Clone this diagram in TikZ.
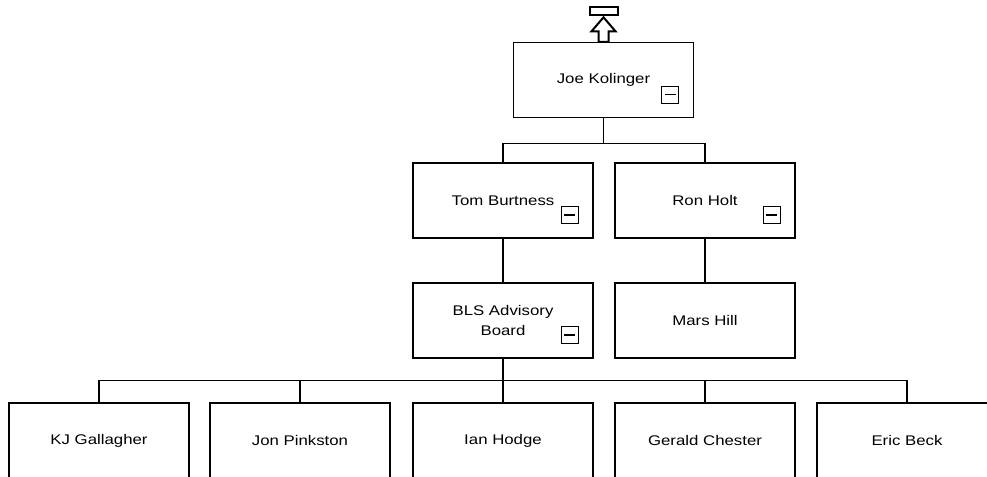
\documentclass[tikz,border=0pt]{standalone}
\usepackage{fontspec}
\newfontfamily\boxfont[FakeStretch=1.2]{Liberation Sans}
\usetikzlibrary{calc}

\tikzset{
  person/.style={draw, line width=1pt, fill=white, minimum width=135pt, minimum height=56.25pt,
                 inner sep=0pt, align=center, font=\boxfont\fontsize{10.5}{15}\selectfont},
  minusbox/.style={draw, line width=1pt, minimum size=12.75pt, inner sep=0pt},
  minusbar/.style={line width=1.1pt},
  link/.style={line width=0.85pt},
  upicon/.style={line width=1.5pt, line join=miter}
}

\begin{document}
\begin{tikzpicture}[x=0.75pt, y=-0.75pt]
\useasboundingbox (0,0) rectangle (987,476);
\clip (0,0) rectangle (987,476);

% people
\node[person] (joe)    at (603.5, 80)  {Joe Kolinger};
\node[person] (tom)    at (503, 200.5) {Tom Burtness};
\node[person] (ron)    at (705, 200.5) {Ron Holt};
\node[person] (bls)    at (503, 320.5) {BLS Advisory\\Board};
\node[person] (mars)   at (705, 320.5) {Mars Hill};
\node[person] (kj)     at (99, 440.5)  {KJ Gallagher};
\node[person] (jon)    at (300, 440.5) {Jon Pinkston};
\node[person] (ian)    at (503, 440.5) {Ian Hodge};
\node[person] (gerald) at (705, 440.5) {Gerald Chester};
\node[person] (eric)   at (907, 440.5) {Eric Beck};

% collapse markers
\foreach \n in {joe, tom, ron, bls} {
  \node[minusbox] (\n-minus) at ($(\n.south east)+(-24,-23.5)$) {};
  \draw[minusbar] ([xshift=2.8pt]\n-minus.west) -- ([xshift=-2.8pt]\n-minus.east);
}

% "go up" marker above the top person
\node[draw, line width=1.5pt, minimum width=21pt, minimum height=6pt, inner sep=0pt]
  (uplink) at ($(joe.north)+(0,-31)$) {};
\draw[upicon] ($(joe.north)+(0,-24.5)$) -- ++(-12,14) -- ++(7,0) -- ++(0,10.5)
  -- ++(10,0) -- ++(0,-10.5) -- ++(7,0) -- cycle;

% connectors
\coordinate (bus1) at ($(joe.south)+(0,25.5)$);
\coordinate (bus2) at ($(bls.south)+(0,22)$);
\draw[link] (joe.south) -- (bus1);
\draw[link] (tom.north) |- (bus1) -| (ron.north);
\draw[link] (tom.south) -- (bls.north);
\draw[link] (ron.south) -- (mars.north);
\draw[link] (bls.south) -- (ian.north);
\draw[link] (kj.north) |- (bus2) -| (eric.north);
\draw[link] (jon.north) -- (jon.north |- bus2);
\draw[link] (gerald.north) -- (gerald.north |- bus2);
\end{tikzpicture}
\end{document}
